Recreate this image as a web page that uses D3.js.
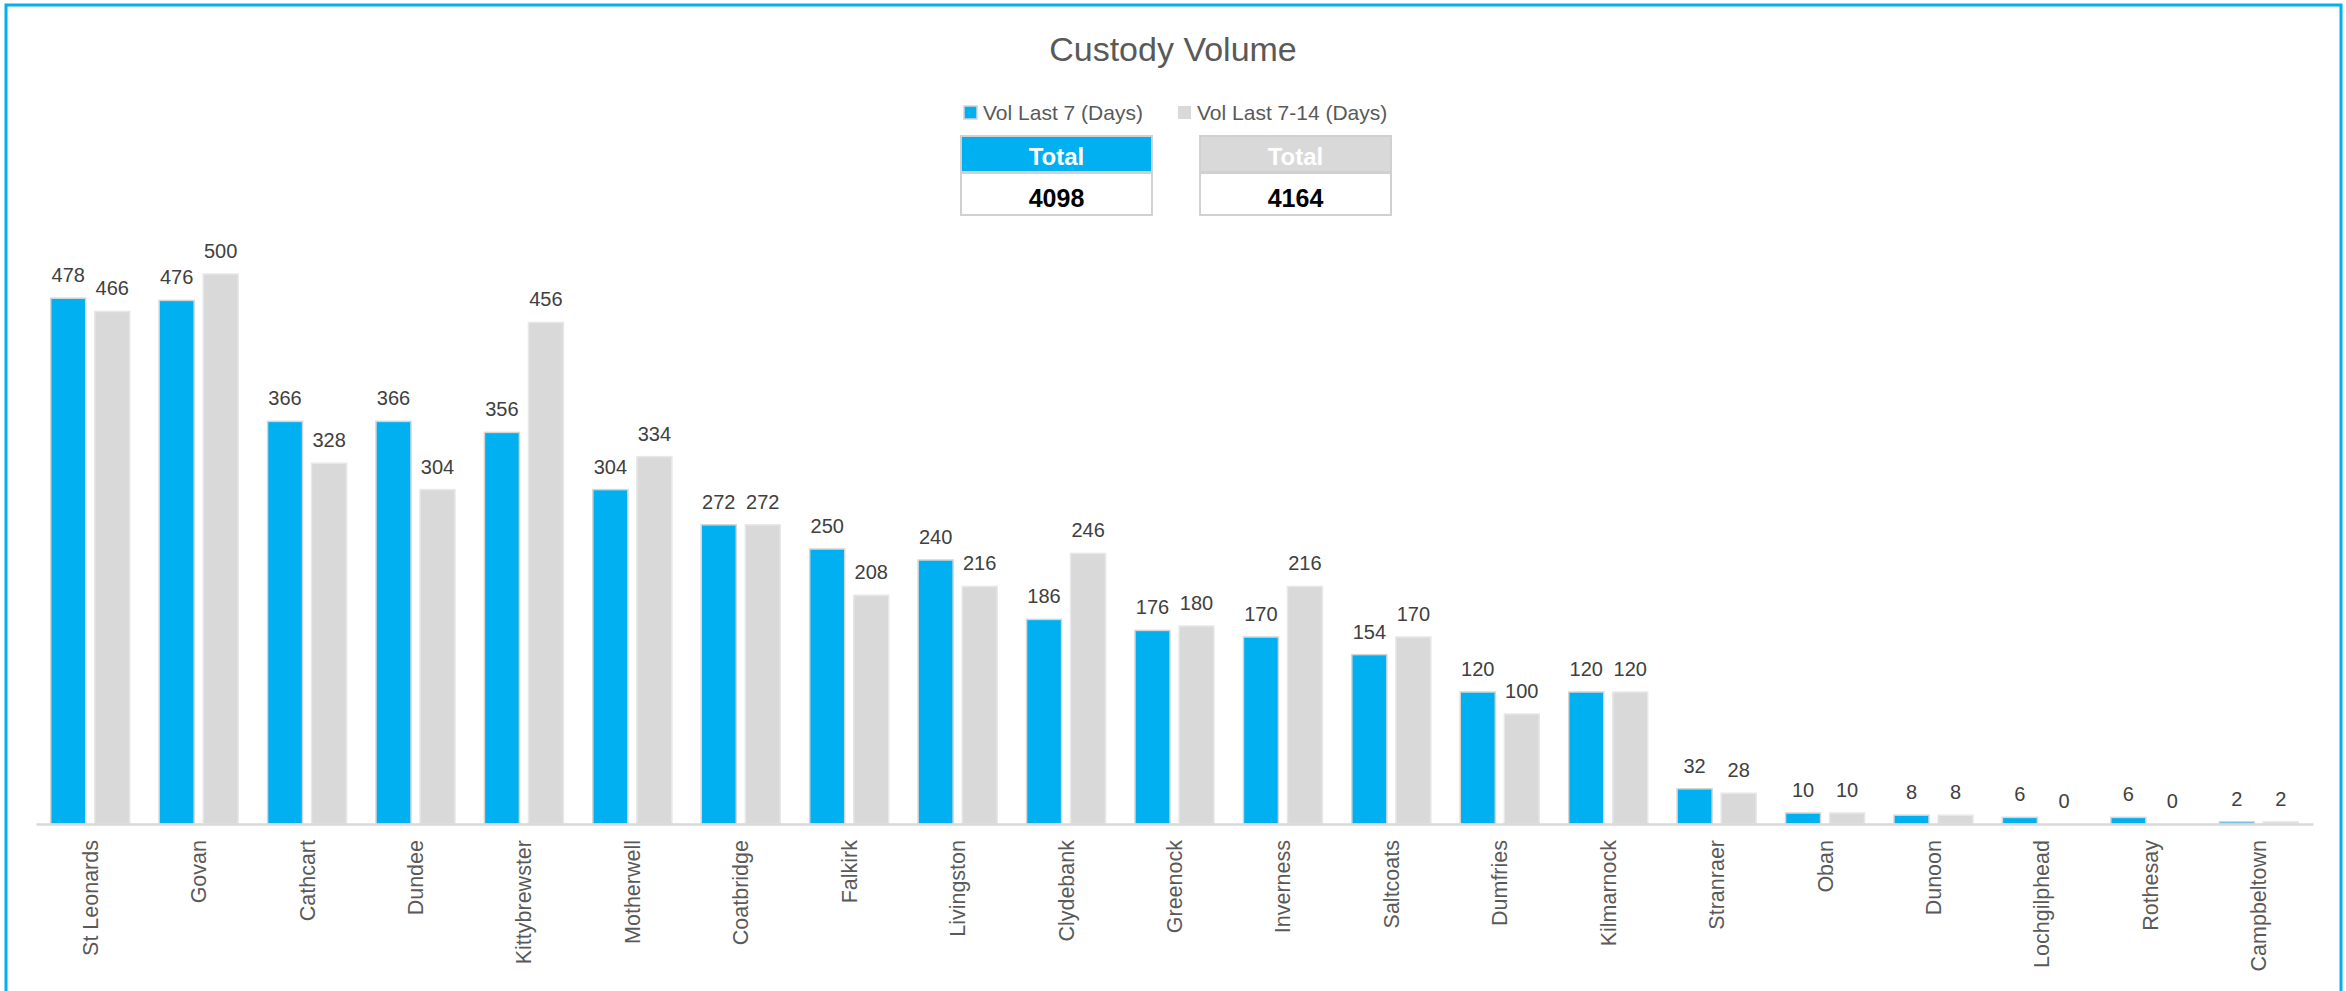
<!DOCTYPE html>
<html>
<head>
<meta charset="utf-8">
<script src="https://cdnjs.cloudflare.com/ajax/libs/d3/7.8.5/d3.min.js"></script>
<style>
	body { margin: 0; background: #fff; }
	svg text { font-family: "Liberation Sans", Arial, sans-serif; }
</style>
</head>
<body>
<div id="visDiv"></div>
<script>
var categories = ['St Leonards', 'Govan', 'Cathcart', 'Dundee', 'Kittybrewster', 'Motherwell', 'Coatbridge',
	'Falkirk', 'Livingston', 'Clydebank', 'Greenock', 'Inverness', 'Saltcoats', 'Dumfries', 'Kilmarnock',
	'Stranraer', 'Oban', 'Dunoon', 'Lochgilphead', 'Rothesay', 'Campbeltown'];
var volLast7 = [478, 476, 366, 366, 356, 304, 272, 250, 240, 186, 176, 170, 154, 120, 120, 32, 10, 8, 6, 6, 2];
var volLast7to14 = [466, 500, 328, 304, 456, 334, 272, 208, 216, 246, 180, 216, 170, 100, 120, 28, 10, 8, 0, 0, 2];
var seriesNames = ['Vol Last 7 (Days)', 'Vol Last 7-14 (Days)'];
var seriesColors = ['#00B0F0', '#D9D9D9'];
var yMax = 500;

(function () {

	window.onload = function () {
		var W = 2346, H = 991,
			axisY = 824, topY = 274,
			left = 36, right = 2313;

		var svg = d3.select('#visDiv')
			.append('svg')
				.attr('width', W)
				.attr('height', H);

		// outer frame
		svg.append('rect')
			.attr('x', 6).attr('y', 5)
			.attr('width', 2335).attr('height', 1000)
			.style('fill', 'none')
			.style('stroke', '#00B0F0')
			.style('stroke-width', 3);

		svg.append('text')
			.attr('x', 1173).attr('y', 61)
			.style('text-anchor', 'middle')
			.style('font-size', '34px')
			.style('fill', '#595959')
			.text('Custody Volume');

		var x0 = d3.scaleBand()
			.domain(categories)
			.range([left, right])
			.paddingInner(0.271)
			.paddingOuter(0.1355);

		var x1 = d3.scaleBand()
			.domain([0, 1])
			.range([0, x0.bandwidth()])
			.paddingInner(0.205);

		var y = d3.scaleLinear()
			.domain([0, yMax])
			.range([axisY, topY]);

		var rows = categories.map(function (c, i) {
			return {name: c, vals: [volLast7[i], volLast7to14[i]]};
		});

		var groups = svg.selectAll('g.cat')
			.data(rows)
			.enter()
			.append('g')
				.attr('class', 'cat')
				.attr('transform', function (d) { return 'translate(' + x0(d.name) + ',0)'; });

		groups.selectAll('rect')
			.data(function (d) { return d.vals; })
			.enter()
			.append('rect')
				.attr('x', function (d, i) { return x1(i); })
				.attr('y', function (d) { return y(d); })
				.attr('width', x1.bandwidth())
				.attr('height', function (d) { return axisY - y(d); })
				.style('fill', function (d, i) { return seriesColors[i]; })
				.style('stroke', function (d, i) { return i === 0 ? '#D5D5D5' : '#E8E8E8'; })
				.style('stroke-width', function (d) { return d > 0 ? 1.5 : 0; });

		groups.selectAll('text.lbl')
			.data(function (d) { return d.vals; })
			.enter()
			.append('text')
				.attr('class', 'lbl')
				.attr('x', function (d, i) { return x1(i) + x1.bandwidth() / 2; })
				.attr('y', function (d) { return y(d) - 16; })
				.style('text-anchor', 'middle')
				.style('font-size', '20px')
				.style('fill', '#404040')
				.text(function (d) { return d; });

		// category axis
		var axis = svg.append('g')
			.attr('transform', 'translate(0,' + axisY + ')')
			.call(d3.axisBottom(x0).tickSize(0).tickSizeOuter(0));

		axis.select('.domain')
			.style('stroke', '#D9D9D9')
			.style('stroke-width', 2.7);

		axis.selectAll('text')
			.attr('x', -16)
			.attr('y', 0)
			.attr('dy', '0.35em')
			.attr('transform', 'rotate(-90)')
			.style('text-anchor', 'end')
			.style('font-family', '"Liberation Sans", Arial, sans-serif')
			.style('font-size', '21.5px')
			.style('fill', '#595959');

		// legend
		var legX = [964, 1178];
		seriesNames.forEach(function (s, i) {
			svg.append('rect')
				.attr('x', legX[i]).attr('y', 106)
				.attr('width', 13).attr('height', 13)
				.style('fill', seriesColors[i])
				.style('stroke', i === 0 ? '#D5D5D5' : 'none')
				.style('stroke-width', 1.5);
			svg.append('text')
				.attr('x', legX[i] + 19).attr('y', 120)
				.style('font-size', '21px')
				.style('fill', '#595959')
				.text(s);
		});

		// total boxes
		var totals = [d3.sum(volLast7), d3.sum(volLast7to14)];
		var boxX = [961, 1200], boxW = 191;
		totals.forEach(function (t, i) {
			var b = svg.append('g').attr('transform', 'translate(' + boxX[i] + ',136)');
			b.append('rect')
				.attr('x', 0).attr('y', 0)
				.attr('width', boxW).attr('height', 36)
				.style('fill', seriesColors[i])
				.style('stroke', '#D0D0D0')
				.style('stroke-width', 2);
			b.append('rect')
				.attr('x', 0).attr('y', 37)
				.attr('width', boxW).attr('height', 42)
				.style('fill', '#fff')
				.style('stroke', '#D0D0D0')
				.style('stroke-width', 2);
			b.append('text')
				.attr('x', boxW / 2).attr('y', 29)
				.style('text-anchor', 'middle')
				.style('font-size', '24px')
				.style('font-weight', 'bold')
				.style('fill', '#fff')
				.text('Total');
			b.append('text')
				.attr('x', boxW / 2).attr('y', 71)
				.style('text-anchor', 'middle')
				.style('font-size', '25px')
				.style('font-weight', 'bold')
				.style('fill', '#000')
				.text(t);
		});
	};
}());
</script>
</body>
</html>
